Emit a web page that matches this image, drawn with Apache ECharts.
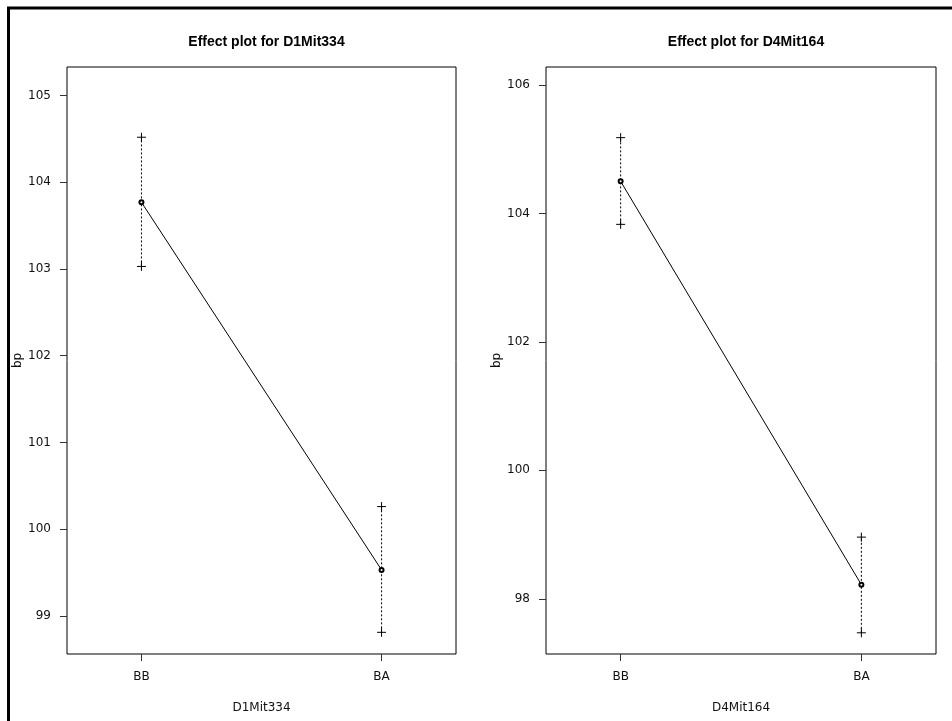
<!DOCTYPE html>
<html>
<head>
<meta charset="utf-8">
<style>
  html, body { margin: 0; padding: 0; background: #fff; }
  #chart { width: 952px; height: 721px; }
</style>
<script src="https://cdn.jsdelivr.net/npm/echarts@6/dist/echarts.min.js"></script>
</head>
<body>
<div id="chart"></div>
<script>
// ---- data ----
const categories = ['BB', 'BA'];
const categoryPos = [1, 2];
const titles = ['Effect plot for D1Mit334', 'Effect plot for D4Mit164'];
const xNames = ['D1Mit334', 'D4Mit164'];
const yName = 'bp';

const means1 = [103.77, 99.53];
const lower1 = [103.03, 98.81];
const upper1 = [104.52, 100.26];

const means2 = [104.50, 98.22];
const lower2 = [103.83, 97.47];
const upper2 = [105.18, 98.96];

const yTicks1 = [99, 100, 101, 102, 103, 104, 105];
const yTicks2 = [98, 100, 102, 104, 106];
const yRange1 = [98.56, 105.33];
const yRange2 = [97.14, 106.28];
const xRange = [0.69, 2.31];

// ---- build option ----
const TITLE_FONT = "'Liberation Sans', Arial, sans-serif";
const FONT = "'DejaVu Sans', 'Liberation Sans', sans-serif";
const panels = [
  { means: means1, lower: lower1, upper: upper1, ticks: yTicks1, range: yRange1, left: 67, width: 389 },
  { means: means2, lower: lower2, upper: upper2, ticks: yTicks2, range: yRange2, left: 546, width: 390 }
];

const grids = [], xAxes = [], yAxes = [], series = [], titleOpts = [];

panels.forEach((p, i) => {
  grids.push({ left: p.left, top: 67, width: p.width, height: 587, show: true,
    borderColor: '#000', borderWidth: 1, backgroundColor: 'transparent', containLabel: false });
  titleOpts.push({ text: titles[i], left: p.left + p.width / 2, top: 30, textAlign: 'center',
    textStyle: { fontFamily: TITLE_FONT, fontSize: 14, fontWeight: 'bold', color: '#000' } });
  xAxes.push({
    type: 'value', gridIndex: i, min: xRange[0], max: xRange[1],
    name: xNames[i], nameLocation: 'middle', nameGap: 48,
    nameTextStyle: { fontFamily: FONT, fontSize: 12, color: '#111' },
    axisLine: { show: false },
    splitLine: { show: false },
    axisTick: { show: true, length: 7, customValues: categoryPos, lineStyle: { color: '#333' } },
    axisLabel: { customValues: categoryPos, margin: 17, fontFamily: FONT, fontSize: 12, color: '#111',
      formatter: v => categories[categoryPos.indexOf(v)] || '' }
  });
  yAxes.push({
    type: 'value', gridIndex: i, min: p.range[0], max: p.range[1],
    name: yName, nameLocation: 'middle', nameGap: 42, nameRotate: 90,
    nameTextStyle: { fontFamily: FONT, fontSize: 12, color: '#111' },
    axisLine: { show: false },
    splitLine: { show: false },
    axisTick: { show: true, length: 7, customValues: p.ticks, lineStyle: { color: '#333' } },
    axisLabel: { customValues: p.ticks, margin: 16, fontFamily: FONT, fontSize: 12, color: '#111' }
  });

  const barData = categoryPos.map((x, k) => [x, p.lower[k], p.upper[k]]);
  series.push({
    type: 'custom', xAxisIndex: i, yAxisIndex: i, data: barData, z: 2,
    renderItem: (params, api) => {
      const x = api.value(0);
      const lo = api.coord([x, api.value(1)]);
      const hi = api.coord([x, api.value(2)]);
      const h = 4.5;
      const cross = c => [
        { type: 'line', shape: { x1: c[0] - h, y1: c[1], x2: c[0] + h, y2: c[1] }, style: { stroke: '#000', lineWidth: 1 } },
        { type: 'line', shape: { x1: c[0], y1: c[1] - h, x2: c[0], y2: c[1] + h }, style: { stroke: '#000', lineWidth: 1 } }
      ];
      return { type: 'group', children: [
        { type: 'line', shape: { x1: lo[0], y1: lo[1], x2: hi[0], y2: hi[1] },
          style: { stroke: '#000', lineWidth: 1, lineDash: [2, 2] } }
      ].concat(cross(lo), cross(hi)) };
    }
  });
  series.push({
    type: 'line', xAxisIndex: i, yAxisIndex: i, z: 3,
    data: categoryPos.map((x, k) => [x, p.means[k]]),
    symbol: 'emptyCircle', symbolSize: 4,
    lineStyle: { color: '#000', width: 1 },
    itemStyle: { color: '#000', borderWidth: 0.8 }
  });
});

const chart = echarts.init(document.getElementById('chart'), null, { renderer: 'canvas' });
chart.setOption({
  animation: false,
  backgroundColor: '#fff',
  title: titleOpts,
  grid: grids,
  xAxis: xAxes,
  yAxis: yAxes,
  series: series,
  graphic: [{
    type: 'polyline', silent: true,
    shape: { points: [[8.5, 721], [8.5, 8], [952, 8]] },
    style: { stroke: '#000', lineWidth: 3, fill: null }
  }]
});
</script>
</body>
</html>
